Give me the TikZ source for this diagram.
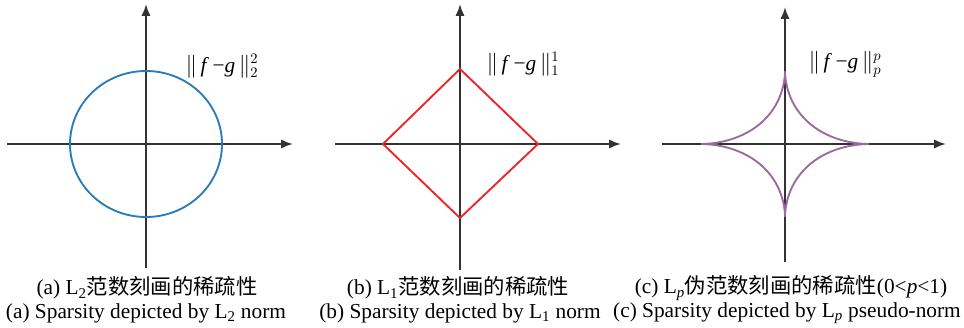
\documentclass[tikz,border=0pt]{standalone}
\usepackage{fontspec}
\setmainfont{Liberation Serif}
\newfontfamily\cjk{Noto Sans CJK SC}
\usetikzlibrary{arrows.meta}
\definecolor{axisgray}{HTML}{333333}
\definecolor{ltwoblue}{HTML}{2B7BBA}
\definecolor{lonered}{HTML}{EE2424}
\definecolor{lppurple}{HTML}{9A6A9E}
\tikzset{
  axisline/.style={line width=1.5pt, draw=axisgray, -{Latex[length=9pt,width=7pt]}},
  normshape/.style={line width=1.4pt},
  normlabel/.style={font=\fontsize{16}{19}\selectfont, inner sep=1pt},
  caption/.style={font=\fontsize{16}{19}\selectfont, inner sep=0pt}
}

\begin{document}
\begin{tikzpicture}[x=0.75pt, y=-0.75pt]
  \useasboundingbox (0,0) rectangle (964,328);

  % Axes of the three panels
  \foreach \n/\cx/\t/\b/\l/\r in {a/146/4/268/7/293, b/460/4/270/335/621, c/785/7/262/662/946} {
    \coordinate (\n-o) at (\cx,144);
    \coordinate (\n-n) at (\cx,\t);
    \coordinate (\n-s) at (\cx,\b);
    \coordinate (\n-w) at (\l,144);
    \coordinate (\n-e) at (\r,144);
    \draw[axisline] (\n-s) -- (\n-n);
    \draw[axisline] (\n-w) -- (\n-e);
  }

  % (a) L2 ball
  \draw[normshape, ltwoblue] (a-o) ellipse [x radius=76, y radius=73];

  % (b) L1 ball
  \draw[normshape, lonered, line join=miter] (460,69) -- (538,144) -- (460,218) -- (383,144) -- cycle;

  % (c) Lp ball, 0<p<1
  \foreach \sx/\sy in {1/1,-1/1,1/-1,-1/-1} {
    \draw[normshape, lppurple, shift={(c-o)}]
      plot[domain=0.3:89.7, samples=120, smooth] ({\sx*84*pow(cos(\x),3.6)}, {\sy*73*pow(sin(\x),3.6)});
  }

  % Norm labels
  \node[normlabel] (la) at (222,66) {\(\|\)\,\textit{f}\,−\textit{g}\,\(\|^{2}_{2}\)};
  \node[normlabel] (lb) at (523,64) {\(\|\)\,\textit{f}\,−\textit{g}\,\(\|^{1}_{1}\)};
  \node[normlabel] (lc) at (845,64) {\(\|\)\,\textit{f}\,−\textit{g}\,\(\|^{p}_{p}\)};

  % Captions
  \node[caption] (ca1) at (147,288) {(a) L\textsubscript{2}{\cjk 范数刻画的稀疏性}};
  \node[caption] (ca2) at (146,313) {(a) Sparsity depicted by L\textsubscript{2} norm};
  \node[caption] (cb1) at (458,288) {(b) L\textsubscript{1}{\cjk 范数刻画的稀疏性}};
  \node[caption] (cb2) at (460,313) {(b) Sparsity depicted by L\textsubscript{1} norm};
  \node[caption] (cc1) at (791,288) {(c) L\textsubscript{\textit{p}}{\cjk 伪范数刻画的稀疏性}(0<\textit{p}<1)};
  \node[caption] (cc2) at (787,313) {(c) Sparsity depicted by L\textsubscript{\textit{p}} pseudo-norm};
\end{tikzpicture}
\end{document}
